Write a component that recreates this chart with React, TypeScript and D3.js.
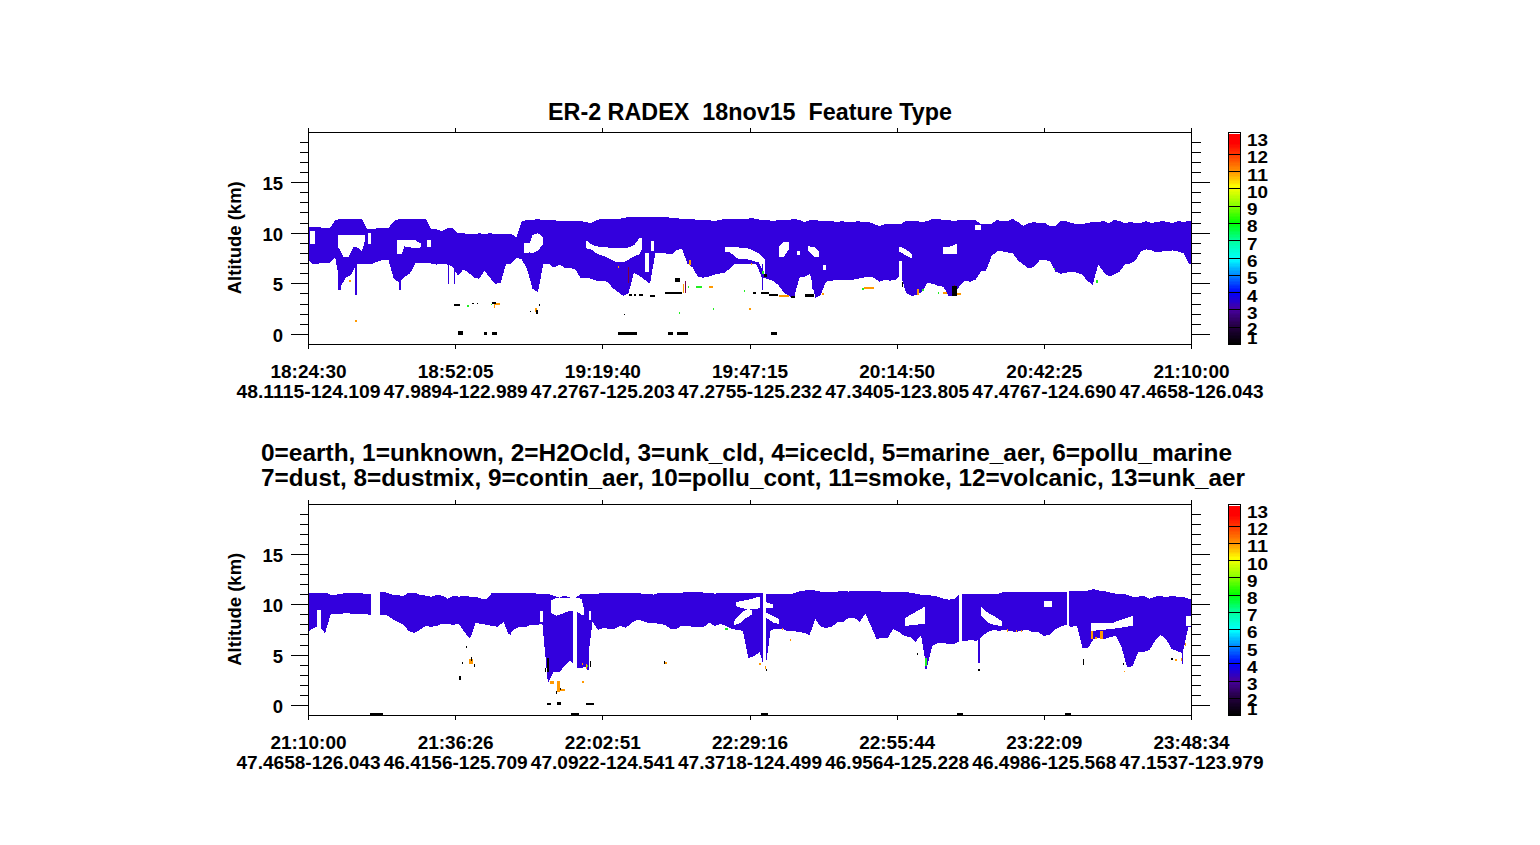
import React from "react";
import * as d3 from "d3";

// minutes after the start of each panel, one value per minute
const timeLabelsA = ["18:24:30", "18:52:05", "19:19:40", "19:47:15", "20:14:50", "20:42:25", "21:10:00"];
const placeLabelsA = ["48.1115-124.109", "47.9894-122.989", "47.2767-125.203", "47.2755-125.232", "47.3405-123.805", "47.4767-124.690", "47.4658-126.043"];
const timeLabelsB = ["21:10:00", "21:36:26", "22:02:51", "22:29:16", "22:55:44", "23:22:09", "23:48:34"];
const placeLabelsB = ["47.4658-126.043", "46.4156-125.709", "47.0922-124.541", "47.3718-124.499", "46.9564-125.228", "46.4986-125.568", "47.1537-123.979"];

const spanA = 165.5;
const spanB = 158.57;
const altTicks = [0, 5, 10, 15];
const altMinor = d3.range(0, 20);
const barLevels = [13, 12, 11, 10, 9, 8, 7, 6, 5, 4, 3, 2, 1];

const colorLevels = [1, 2, 3, 3.95, 5, 5.9, 7, 8, 9, 10.1, 10.9, 12, 12.6];
const colorStops = ["#000000", "#240040", "#4800a0", "#0000ff", "#0088ff", "#00ffff", "#00ff99", "#00ff00", "#88ff00", "#ffff00", "#ff9900", "#ff3300", "#ff0000"];

const topA = [
  10.6, 10.6, 10.6, 10.5, 10.5, 11.3, 11.4, 11.4, 11.4, 11.4, 11.4, 10.4, 10.4, 10.5, 10.5, 10.5, 11.2, 11.4, 11.4, 11.4,
  11.4, 11.4, 11.4, 10.4, 10.4, 10.2, 10.5, 10.5, 10.0, 10.0, 9.9, 9.9, 10.0, 9.9, 10.0, 9.9, 9.9, 9.9, 9.9, 9.6,
  11.2, 11.3, 11.3, 11.4, 11.3, 11.3, 11.3, 11.2, 11.2, 11.2, 11.2, 11.2, 11.1, 11.0, 11.3, 11.4, 11.4, 11.4, 11.4, 11.5,
  11.6, 11.6, 11.6, 11.6, 11.6, 11.6, 11.6, 11.6, 11.5, 11.5, 11.4, 11.4, 11.4, 11.3, 11.3, 11.3, 11.2, 11.3, 11.4, 11.4,
  11.4, 11.4, 11.4, 11.5, 11.4, 11.3, 11.3, 11.2, 11.3, 11.3, 11.3, 11.4, 11.3, 11.1, 11.3, 11.3, 11.2, 11.2, 11.2, 11.1,
  11.2, 11.1, 11.1, 11.2, 11.1, 11.1, 10.9, 10.7, 10.9, 10.9, 10.9, 10.9, 11.2, 11.2, 11.2, 11.1, 11.2, 11.4, 11.4, 11.3,
  11.3, 11.2, 11.3, 11.3, 11.3, 11.3, 10.9, 10.9, 10.9, 11.3, 11.2, 11.2, 11.4, 11.1, 10.7, 11.0, 11.1, 11.0, 11.0, 10.7,
  10.7, 11.2, 11.2, 11.0, 10.9, 10.9, 11.0, 11.1, 11.1, 11.2, 11.0, 11.3, 11.2, 11.0, 11.1, 11.0, 11.0, 11.2, 11.0, 11.1,
  11.2, 11.1, 11.0, 11.2, 11.1, 11.2,
];
const baseA = [
  7.3, 6.9, 7.0, 7.1, 7.1, 7.6, 4.7, 5.6, 5.9, 6.9, 7.0, 7.0, 7.0, 7.2, 7.4, 7.3, 5.5, 5.1, 5.7, 6.0,
  7.0, 7.1, 7.1, 7.0, 6.9, 7.0, 6.9, 6.7, 5.8, 6.4, 6.1, 5.6, 5.5, 6.3, 5.6, 5.0, 5.1, 6.9, 7.0, 7.6,
  7.4, 6.4, 4.5, 4.2, 6.9, 7.0, 6.6, 6.9, 6.6, 6.6, 6.4, 5.6, 5.6, 5.5, 5.3, 5.3, 5.2, 4.6, 4.2, 3.8,
  4.1, 6.1, 5.8, 5.4, 5.0, 8.0, 8.0, 8.0, 7.9, 8.3, 8.5, 7.0, 6.6, 5.7, 5.6, 5.7, 5.9, 6.0, 6.1, 6.5,
  7.0, 7.0, 7.0, 7.0, 6.9, 5.6, 5.5, 5.3, 4.9, 4.2, 3.8, 3.6, 5.6, 5.7, 6.0, 3.6, 3.9, 5.2, 5.3, 5.4,
  5.4, 5.4, 5.4, 5.5, 5.6, 5.7, 5.6, 5.2, 5.4, 5.3, 5.4, 5.9, 4.1, 3.8, 3.9, 4.2, 5.1, 5.0, 4.8, 4.7,
  3.8, 3.8, 4.8, 5.3, 5.2, 5.4, 6.2, 6.3, 7.7, 8.2, 8.2, 8.1, 8.0, 7.3, 6.9, 6.5, 6.7, 7.3, 7.4, 7.2,
  6.2, 6.0, 6.1, 6.2, 6.1, 5.9, 5.3, 4.9, 6.9, 6.2, 5.7, 5.9, 6.2, 6.9, 7.0, 7.3, 8.2, 8.4, 8.3, 8.1,
  8.2, 8.2, 8.3, 8.2, 8.0, 7.0,
];
const topB = [
  11.2, 11.2, 11.2, 11.2, 11.0, 11.0, 11.1, 11.2, 11.2, 11.2, 11.1, 11.1, 11.1, 11.3, 11.2, 11.0, 10.95, 10.85, 11.2, 11.2,
  11.0, 10.9, 10.8, 10.95, 10.9, 10.6, 10.9, 10.8, 10.9, 10.8, 10.8, 10.6, 10.6, 11.2, 11.2, 11.2, 11.2, 11.2, 11.2, 11.2,
  11.2, 11.1, 11.1, 11.1, 10.9, 10.7, 10.9, 10.7, 10.7, 11.1, 11.1, 11.1, 11.1, 11.15, 11.15, 11.2, 11.2, 11.2, 11.2, 11.15,
  11.1, 11.1, 11.0, 11.2, 11.2, 11.2, 11.2, 11.2, 11.25, 11.25, 11.3, 11.2, 11.15, 11.1, 11.2, 11.2, 11.2, 11.2, 11.15, 11.15,
  11.15, 11.15, 11.1, 11.1, 11.1, 11.1, 11.1, 11.1, 11.3, 11.4, 11.5, 11.4, 11.3, 11.3, 11.3, 11.3, 11.4, 11.3, 11.4, 11.4,
  11.4, 11.4, 11.4, 11.3, 11.3, 11.3, 11.3, 11.3, 11.2, 11.1, 11.0, 11.0, 10.9, 10.8, 10.6, 10.5, 10.6, 11.05, 11.05, 11.1,
  11.1, 11.1, 11.1, 11.1, 11.1, 11.3, 11.3, 11.3, 11.3, 11.3, 11.3, 11.3, 11.3, 11.3, 11.3, 11.3, 11.3, 11.35, 11.35, 11.35,
  11.4, 11.55, 11.4, 11.35, 11.2, 11.1, 11.1, 11.0, 10.8, 10.8, 10.9, 10.6, 10.8, 10.9, 10.7, 10.9, 10.8, 10.8, 10.6,
];
const baseB = [
  7.35, 7.7, 7.85, 7.2, 9.1, 9.1, 9.1, 9.2, 9.05, 9.1, 9.1, 9.0, 9.0, 9.0, 9.0, 8.6, 8.3, 8.0, 7.4, 7.2,
  7.5, 7.9, 7.8, 7.9, 8.1, 8.1, 8.0, 8.1, 7.3, 6.6, 8.2, 8.1, 8.0, 7.9, 7.8, 8.3, 7.0, 7.6, 7.8, 7.8,
  8.0, 8.0, 8.1, 2.2, 3.3, 3.3, 3.9, 4.5, 3.7, 3.7, 3.9, 8.3, 7.5, 7.7, 7.6, 7.6, 7.9, 7.7, 8.2, 8.5,
  8.4, 8.2, 8.2, 8.1, 8.0, 7.6, 7.6, 7.9, 7.9, 7.8, 7.8, 7.8, 8.2, 7.9, 8.1, 7.9, 7.6, 7.5, 7.4, 4.7,
  4.9, 5.3, 3.5, 7.5, 7.6, 7.6, 7.4, 7.4, 7.3, 7.2, 7.0, 8.6, 7.8, 7.7, 7.8, 8.3, 8.3, 8.7, 8.7, 8.3,
  9.1, 7.9, 6.6, 6.7, 6.7, 7.6, 7.3, 6.9, 6.8, 6.3, 7.0, 3.6, 5.9, 6.2, 6.2, 6.1, 6.1, 6.4, 6.4, 6.5,
  6.4, 6.9, 7.3, 7.5, 7.4, 7.5, 7.4, 7.3, 7.4, 7.5, 7.3, 7.3, 6.9, 7.0, 7.5, 7.8, 8.0, 7.8, 7.9, 5.7,
  5.7, 6.6, 6.7, 6.6, 6.8, 6.9, 5.8, 3.8, 3.9, 5.3, 5.3, 5.5, 6.4, 7.0, 6.6, 5.6, 5.4, 5.2, 7.8,
];

// white gaps inside the layer: [minute, upper km, lower km]
const gapsA = [
  [[0.2, 10.2, 8.9], [1.2, 10.2, 8.9]],
  [[5.6, 9.8, 8.6], [6.5, 9.8, 7.7], [7.5, 9.8, 7.6], [8.5, 9.8, 8.7], [9.5, 9.8, 8.5], [10, 9.8, 8.2], [10.6, 9.8, 9.3]],
  [[11.2, 10, 8.9], [11.8, 10, 8.9]],
  [[16.5, 9.3, 8.0], [17.5, 9.3, 7.9], [18, 9.3, 8.7], [20, 9.3, 8.5], [21, 9, 8.6]],
  [[22.2, 9.3, 8.6], [23, 9.3, 8.6]],
  [[40.3, 9.0, 8.0], [41.5, 9, 8.1], [42, 9.8, 8.0], [43, 10, 8.3], [44, 9.6, 8.9]],
  [[52, 9.3, 8.5], [53, 8.9, 8.4], [54, 8.7, 8.0], [56, 8.6, 7.6], [57.5, 8.5, 7.2], [59, 8.5, 7.1], [60, 8.6, 7.4], [61, 8.8, 7.7], [62, 9.5, 7.9], [62.5, 9.5, 8.4]],
  [[63, 8.0, 6.2], [63.8, 8.0, 6.2]],
  [[64.2, 9.2, 8.2], [64.7, 9.2, 8.2]],
  [[78, 8.6, 8.2], [79, 8.6, 8.1], [80.4, 8.6, 7.5], [82.4, 8.5, 7.4], [84.4, 8.0, 7.1], [85.5, 7.4, 5.9]],
  [[88.1, 8.6, 7.6], [89, 9.1, 7.6], [90, 9.1, 8.4]],
  [[91.5, 8.2, 7.8], [92.1, 8.2, 7.8]],
  [[93.7, 8.7, 8.2], [95, 8.6, 7.6], [95.6, 8.2, 7.6]],
  [[96.5, 6.9, 6.4], [97, 6.9, 6.4]],
  [[110.6, 7.3, 5.0], [111.2, 7.3, 5.0]],
  [[110.7, 8.7, 8.2], [112, 8.4, 7.8], [113.2, 7.9, 7.5]],
  [[119, 8.6, 7.9], [120.5, 8.7, 7.9], [121.6, 9.0, 8.0]],
  [[125, 10.8, 10.3], [126, 10.8, 10.3]],
];
const gapsB = [
  [[1.6, 9.5, 7.8], [2.2, 9.5, 7.8]],
  [[11.2, 11.4, 8.8], [12.9, 11.4, 8.8]],
  [[41.5, 9.4, 8.3], [42.2, 9.4, 8.3]],
  [[43.5, 10.4, 9.2], [44.5, 10.7, 8.9], [47, 10.7, 9.4], [48, 10.7, 9.4], [49, 10.6, 9.0], [49.5, 9.5, 9.0]],
  [[47.5, 9.5, 3.6], [48.2, 9.5, 3.6]],
  [[50.3, 9.4, 8.5], [50.8, 9.4, 8.5]],
  [[76.7, 10.25, 9.85], [79, 10.5, 9.5], [81, 10.8, 9.65]],
  [[76.4, 8.35, 7.95], [77.7, 9.2, 8.2], [78.6, 9.5, 8.7], [79.6, 9.5, 9]],
  [[81.6, 11.3, 3.4], [82.1, 11.3, 3.4]],
  [[82.2, 10.25, 9.7], [83.5, 10, 9.7]],
  [[82.2, 9.2, 8.7], [83.5, 8.85, 8.2], [84.5, 8.6, 8.1]],
  [[107.2, 8.7, 7.9], [108.8, 9.2, 8.0], [110.8, 9.85, 8.1]],
  [[116.8, 11.4, 5.8], [117.3, 11.4, 5.8]],
  [[120.7, 9.8, 9.0], [122, 9.2, 8.2], [123.2, 8.85, 8.0], [124.5, 8.35, 7.85]],
  [[132, 10.4, 9.75], [133.5, 10.4, 9.75]],
  [[136.2, 11.5, 7.8], [136.5, 11.5, 7.8]],
  [[140.6, 8.2, 7.4], [144.4, 8.2, 7.6], [148, 8.9, 7.9]],
  [[157.6, 8.85, 7.9], [158.57, 8.85, 7.9]],
];

// small marks: [first minute, last minute, lower km, upper km]
const shaftsA = [
  [8.8, 9.1, 3.9, 7], [5.6, 6.1, 4.4, 7], [16.9, 17.3, 4.4, 6], [26.1, 26.3, 5.0, 7], [27.3, 27.5, 5.0, 7],
  [85, 85.2, 4.4, 7], [94.4, 94.8, 4.5, 6],
];
const shaftsB = [
  [2.7, 2.9, 7.2, 9], [36.2, 36.4, 7, 8], [50, 50.3, 3.5, 8], [110.8, 111, 3.6, 7], [120.3, 120.6, 4.2, 7], [156.9, 157.1, 4.1, 6],
];
const orangeA = [
  [8.8, 9, 1.2, 1.4], [7.5, 7.9, 5.2, 5.4], [34.7, 35.8, 2.9, 3.1], [34.7, 34.9, 2.6, 2.9], [42.5, 42.8, 2.2, 2.6], [58, 58.2, 6.6, 6.8],
  [70.1, 70.4, 4.1, 5.0], [71.4, 71.7, 6.9, 7.4], [75.1, 75.8, 4.6, 4.8], [83, 83.2, 6.9, 7.1], [82.6, 82.9, 2.4, 2.6],
  [88.1, 90.1, 3.7, 3.9], [96.2, 96.6, 3.9, 4.1], [104.2, 105.9, 4.5, 4.7], [114, 114.4, 3.9, 4.5], [119, 119.6, 4.0, 4.2], [121.6, 122.3, 3.9, 4.1],
];
const blackA = [
  [28, 28.9, -0.05, 0.35], [32.9, 33.4, -0.05, 0.2], [34.3, 35.4, -0.05, 0.2], [58.1, 61.5, -0.05, 0.2], [67.4, 68.4, -0.05, 0.2], [69.1, 71.1, -0.05, 0.2], [86.6, 87.8, -0.05, 0.2],
  [27.3, 28.4, 2.8, 3.0], [30.6, 31, 3.0, 3.1], [31.5, 31.8, 3.0, 3.1], [34.3, 35.2, 3.0, 3.2], [59.2, 59.4, 1.9, 2.0], [42.7, 43, 2.0, 2.4], [43.2, 43.4, 2.8, 3.0], [41.5, 41.7, 2.2, 2.3],
  [60, 60.6, 3.8, 4.0], [61, 61.4, 3.8, 4.0], [62, 62.7, 3.8, 4.0], [64, 65, 3.7, 3.9], [66.8, 70, 4.0, 4.2], [68.7, 69.6, 5.2, 5.6], [83.4, 83.8, 4.0, 4.2], [84.8, 86.4, 4.0, 4.2],
  [86.4, 88, 3.8, 4.0], [90.5, 91.1, 3.6, 3.8], [93.1, 94.8, 3.7, 4.0], [85.4, 85.9, 5.7, 6.0], [111.3, 111.5, 4.7, 5.2], [120.6, 121.6, 3.8, 4.8],
];
const greenA = [
  [29.8, 30, 2.7, 2.9], [34.2, 34.4, 2.9, 3.0], [69.5, 69.7, 2.0, 2.2], [75.8, 76, 2.4, 2.6], [71.2, 71.4, 4.6, 4.8], [72.7, 73.7, 4.6, 4.8], [81.6, 81.8, 4.2, 4.4],
  [85, 85.3, 6.0, 6.3], [103.7, 104.2, 4.4, 4.6], [115, 115.3, 4.3, 4.5], [118, 118.2, 4.0, 4.2], [139.7, 139.9, 6.4, 6.6], [147.6, 147.9, 5.1, 5.4],
];
const maroonA = [[59.8, 60, 5.1, 6.7], [70.6, 70.8, 4.1, 5.3], [120.9, 121.1, 4, 4.9]];
const orangeB = [
  [43.3, 44.1, 2.1, 2.4], [44.6, 45.1, 1.3, 2.4], [45.2, 46, 1.4, 1.6], [49.2, 49.5, 2.2, 2.4], [28.9, 29.6, 4.1, 4.6], [49.1, 49.3, 4.0, 4.2], [49.8, 50, 3.6, 4.1],
  [64.1, 64.3, 4.1, 4.3], [85, 85.3, 7.5, 7.7], [86.4, 86.6, 6.4, 6.6], [80.9, 81.3, 4.0, 4.2], [82, 82.2, 3.6, 3.9],
  [125.4, 125.6, 7.3, 7.6], [127, 127.2, 7.3, 7.5], [127.9, 128.1, 7.3, 7.5], [140.6, 140.8, 6.6, 7.4], [141.2, 141.6, 6.55, 6.8], [142.2, 142.6, 6.6, 7.4],
  [146.4, 146.6, 3.3, 3.4], [155.6, 156, 4.4, 4.6], [156.6, 156.8, 4.4, 4.7], [157.4, 157.6, 5.9, 6.2],
];
const blackB = [
  [11, 13.4, -1, -0.75], [47.2, 48.6, -1, -0.75], [81.2, 82.6, -1, -0.75], [116.4, 117.6, -1, -0.75], [135.8, 136.9, -1, -0.75],
  [42.8, 43.6, 0, 0.25], [44.7, 45.4, 0, 0.3], [49.8, 51.2, 0, 0.25],
  [44.4, 44.6, 1.1, 1.4], [45.1, 45.4, 1.5, 1.7], [42.9, 43.1, 3.3, 4.7], [42.5, 42.7, 3.3, 3.7], [29.2, 29.4, 4.4, 4.8], [29.7, 29.9, 3.8, 4.1], [27.5, 27.7, 4.1, 4.3],
  [27.1, 27.3, 2.5, 2.9], [28.3, 28.5, 5.7, 5.9], [50.5, 50.8, 3.8, 4.4], [63.8, 64, 4.1, 4.4], [109.2, 109.4, 5.0, 5.2], [120.3, 120.5, 3.4, 3.6],
  [139, 139.1, 4, 4.6], [146.3, 146.5, 4, 4.2], [154.9, 155.3, 4.5, 4.7], [82.2, 82.4, 3.4, 3.6],
];
const greenB = [[50, 50.2, 3.8, 4.0], [74.8, 75.3, 7.5, 7.7], [110.7, 111, 3.9, 4.7]];

const font = "'Liberation Sans', Arial, sans-serif";
const plotLeft = 308.5;
const plotRight = 1191.5;
const pickColor = d3.scaleLinear<string>().domain(colorLevels).range(colorStops).clamp(true);
const layerColor = "#3300dd";

const Bits = ({ list, color, x, y }: { list: number[][]; color: string; x: any; y: any }) => (
  <g fill={color}>
    {list.map((d, i) => (
      <rect
        key={i}
        x={x(d[0])}
        y={y(d[3])}
        width={Math.max(1, x(d[1]) - x(d[0]))}
        height={Math.max(1, y(d[2]) - y(d[3]))}
      />
    ))}
  </g>
);

const Panel = ({ plotTop, plotBottom, span, tops, bases, gaps, shafts, orange, black, green, maroon, times, places, id }: any) => {
  const x = d3.scaleLinear().domain([0, span]).range([plotLeft, plotRight]);
  const y = d3.scaleLinear().domain([-1, 20]).range([plotBottom, plotTop]);
  const bar = d3.scaleLinear().domain([1, 13]).range([plotBottom, plotTop + 5]);

  const rows = tops.map((t: number, i: number) => [i, t, bases[i]]);
  rows.push([span, tops[tops.length - 1], bases[bases.length - 1]]);
  const layer = d3
    .area<number[]>()
    .x((d) => x(d[0]))
    .y0((d) => y(d[2]))
    .y1((d) => y(d[1]));
  const timeTicks = d3.range(0, 7).map((i) => (i * span) / 6);
  const barSteps = d3.range(1, 13.12, 0.08);

  return (
    <g>
      <clipPath id={id}>
        <rect x={plotLeft} y={plotTop} width={plotRight - plotLeft} height={plotBottom - plotTop + 1} />
      </clipPath>
      <g clipPath={`url(#${id})`} shapeRendering="crispEdges">
        <path d={layer(rows) as string} fill={layerColor} />
        {gaps.map((g: number[][], i: number) => (
          <path key={i} d={layer(g) as string} fill="#fff" />
        ))}
        <Bits list={shafts} color={layerColor} x={x} y={y} />
        <Bits list={green} color="#22ee22" x={x} y={y} />
        <Bits list={orange} color="#ff9900" x={x} y={y} />
        <Bits list={maroon} color="#7a0044" x={x} y={y} />
        <Bits list={black} color="#000" x={x} y={y} />
      </g>

      <g stroke="#000" strokeWidth={1} fill="none" shapeRendering="crispEdges">
        <rect x={plotLeft} y={plotTop} width={plotRight - plotLeft} height={plotBottom - plotTop} />
        {timeTicks.map((t) => (
          <g key={t}>
            <line x1={x(t)} x2={x(t)} y1={plotTop} y2={plotTop - 4} />
            <line x1={x(t)} x2={x(t)} y1={plotBottom} y2={plotBottom + 4} />
          </g>
        ))}
        {altMinor.map((a) => {
          const len = altTicks.includes(a) ? 18 : 9;
          return (
            <g key={a}>
              <line x1={plotLeft} x2={plotLeft - len} y1={y(a)} y2={y(a)} />
              <line x1={plotRight} x2={plotRight + len} y1={y(a)} y2={y(a)} />
            </g>
          );
        })}
      </g>

      <g fontFamily={font} fontWeight="bold" fontSize={18.5} fill="#000">
        {altTicks.map((a) => (
          <text key={a} x={283} y={y(a) + 7.5} textAnchor="end">
            {a}
          </text>
        ))}
        <text
          transform={`translate(241,${y(9.55)}) rotate(-90)`}
          textAnchor="middle"
          textLength={113}
          lengthAdjust="spacingAndGlyphs"
        >
          Altitude (km)
        </text>
        {timeTicks.map((t, i) => (
          <g key={t} textAnchor="middle">
            <text x={x(t)} y={plotBottom + 33.5} textLength={76} lengthAdjust="spacingAndGlyphs">
              {times[i]}
            </text>
            <text x={x(t)} y={plotBottom + 53.5} textLength={144} lengthAdjust="spacingAndGlyphs">
              {places[i]}
            </text>
          </g>
        ))}
        {barLevels.map((v) => (
          <text
            key={v}
            x={1247}
            fontSize={17}
            y={bar(v) + (v === 1 ? -0.5 : v === 2 ? 8 : 9)}
            textLength={v > 9 ? 21 : 10.5}
            lengthAdjust="spacingAndGlyphs"
          >
            {v}
          </text>
        ))}
      </g>

      <g shapeRendering="crispEdges">
        {barSteps.map((v) => (
          <rect key={v} x={1228} y={bar(v) - 1.5} width={12} height={1.5} fill={pickColor(v)} />
        ))}
        {barLevels.slice(1, 12).map((v) => (
          <line key={v} x1={1228} x2={1240} y1={bar(v)} y2={bar(v)} stroke="#000" />
        ))}
        <rect x={1228} y={plotTop} width={12} height={plotBottom - plotTop} fill="none" stroke="#000" />
      </g>
    </g>
  );
};

export default function App() {
  return (
    <svg width={1540} height={845} style={{ position: "absolute", left: 0, top: 0, background: "#fff" }}>
      <g fontFamily={font} fontWeight="bold" fontSize={23} fill="#000">
        <text x={548} y={120} xmlSpace="preserve" textLength={404} lengthAdjust="spacingAndGlyphs" style={{ whiteSpace: "pre" }}>
          {"ER-2 RADEX  18nov15  Feature Type"}
        </text>
        <text x={261} y={461} textLength={971} lengthAdjust="spacingAndGlyphs">
          0=earth, 1=unknown, 2=H2Ocld, 3=unk_cld, 4=icecld, 5=marine_aer, 6=pollu_marine
        </text>
        <text x={261} y={486} textLength={984} lengthAdjust="spacingAndGlyphs">
          7=dust, 8=dustmix, 9=contin_aer, 10=pollu_cont, 11=smoke, 12=volcanic, 13=unk_aer
        </text>
      </g>
      <Panel
        id="clipA"
        plotTop={132}
        plotBottom={344.5}
        span={spanA}
        tops={topA}
        bases={baseA}
        gaps={gapsA}
        shafts={shaftsA}
        orange={orangeA}
        black={blackA}
        green={greenA}
        maroon={maroonA}
        times={timeLabelsA}
        places={placeLabelsA}
      />
      <Panel
        id="clipB"
        plotTop={504}
        plotBottom={715.5}
        span={spanB}
        tops={topB}
        bases={baseB}
        gaps={gapsB}
        shafts={shaftsB}
        orange={orangeB}
        black={blackB}
        green={greenB}
        maroon={[]}
        times={timeLabelsB}
        places={placeLabelsB}
      />
    </svg>
  );
}
